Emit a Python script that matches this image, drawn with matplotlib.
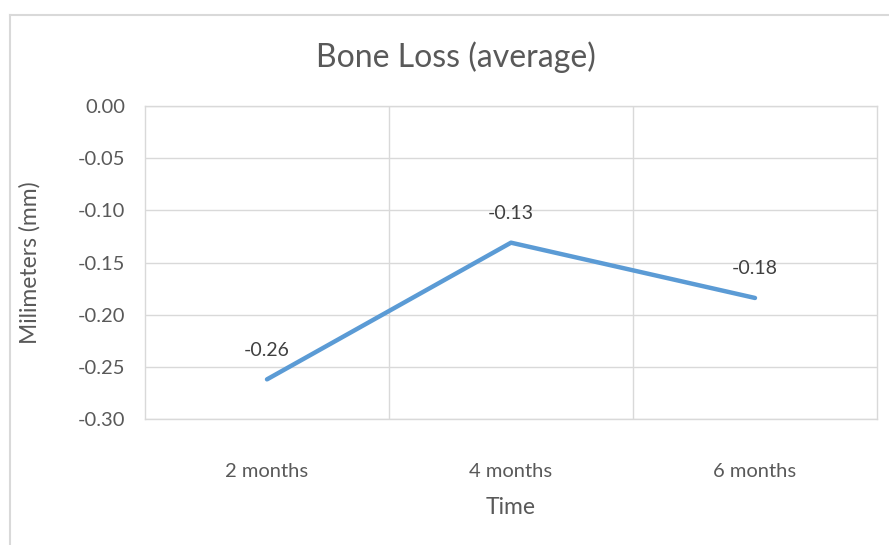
import matplotlib.pyplot as plt
from matplotlib.lines import Line2D

plt.rcParams['font.family'] = ['Lato', 'DejaVu Sans']

categories = ['2 months', '4 months', '6 months']
bone_loss = [-0.262, -0.131, -0.184]
labels = ['-0.26', '-0.13', '-0.18']
yticks = [0.00, -0.05, -0.10, -0.15, -0.20, -0.25, -0.30]

W, H = 889, 545
fig = plt.figure(figsize=(W / 100, H / 100), dpi=100)

# chart border (only left and top fall inside the picture)
fig.add_artist(Line2D([9.5 / W, 9.5 / W], [0, 1 - 15 / H], transform=fig.transFigure,
                      color='#d9d9d9', lw=1.5))
fig.add_artist(Line2D([9.5 / W, 1], [1 - 15 / H, 1 - 15 / H], transform=fig.transFigure,
                      color='#d9d9d9', lw=1.5))

left, right, top, bottom = 145, 877, 106, 419
ax = fig.add_axes([left / W, 1 - bottom / H, (right - left) / W, (bottom - top) / H])

x = range(len(categories))
ax.plot(x, bone_loss, color='#5b9bd5', lw=3.2, solid_capstyle='round')
for xi, yi, lab in zip(x, bone_loss, labels):
    ax.annotate(lab, (xi, yi), xytext=(0, 21), textcoords='offset points',
                ha='center', va='center', fontsize=14, color='#404040')

ax.set_xlim(-0.5, len(categories) - 0.5)
ax.set_ylim(-0.30, 0.0)
ax.set_yticks(yticks)
ax.set_yticklabels(['%.2f' % v for v in yticks])
ax.set_xticks(list(x))
ax.set_xticklabels(categories)
ax.set_xticks([0.5, 1.5], minor=True)

ax.grid(axis='y', color='#d9d9d9', lw=1)
ax.grid(axis='x', which='minor', color='#d9d9d9', lw=1)
ax.set_axisbelow(True)
for s in ax.spines.values():
    s.set_color('#d9d9d9')
    s.set_linewidth(1)
ax.tick_params(which='both', length=0, labelsize=14.5, labelcolor='#595959')
ax.tick_params(axis='y', pad=14)
ax.tick_params(axis='x', pad=32)

fig.text(456 / W, 1 - 57 / H, 'Bone Loss (average)', fontsize=23, color='#595959',
         ha='center', va='center')
ax.set_xlabel('Time', fontsize=16.5, color='#595959')
ax.set_ylabel('Milimeters (mm)', fontsize=16.5, color='#595959')
ax.xaxis.set_label_coords(0.5, (419 - 497) / 313)
ax.yaxis.set_label_coords((41 - 145) / 732, 0.5)

fig.savefig('out.png', dpi=100)
